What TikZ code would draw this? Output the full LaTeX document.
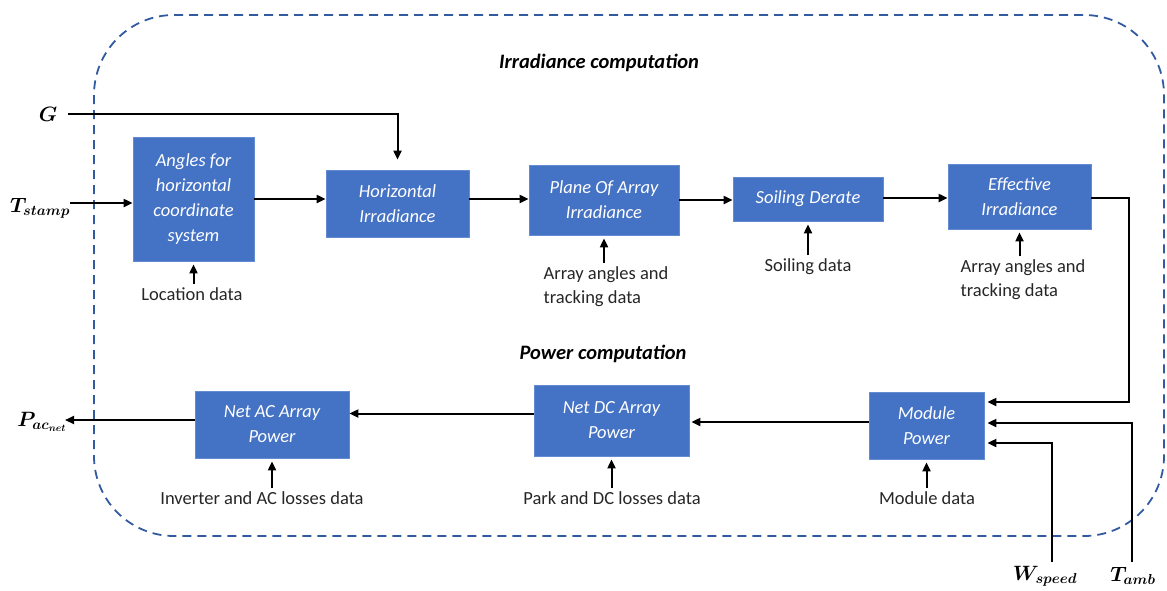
\documentclass[tikz,border=0pt]{standalone}
\usepackage{fontspec}
\usepackage{amsmath}
\usepackage{bm}
\setmainfont{Carlito}
\usetikzlibrary{arrows.meta,calc}
\definecolor{boxblue}{RGB}{68,114,196}
\definecolor{boxedge}{RGB}{100,140,210}
\definecolor{dashblue}{RGB}{50,90,160}
\definecolor{labgray}{RGB}{38,38,38}
\tikzset{
  blk/.style={draw=boxedge, line width=0.8pt, fill=boxblue, text=white, align=center,
    font=\fontsize{18.5}{25}\selectfont\itshape, inner sep=0pt},
  lbl/.style={anchor=north, align=left, text=labgray, inner sep=1pt,
    font=\fontsize{18.5}{24}\selectfont},
  ttl/.style={font=\fontsize{20.5}{24}\selectfont\bfseries\itshape, text=black},
  mth/.style={font=\fontsize{19.5}{22}\selectfont, inner sep=1pt},
  arr/.style={line width=2pt, -{Triangle[length=9pt,width=8pt]}},
  frame/.style={draw=dashblue, line width=1.8pt, dash pattern=on 9pt off 6pt, rounded corners=80pt}
}
\begin{document}
\begin{tikzpicture}[x=1pt,y=-1pt]
\useasboundingbox (0,0) rectangle (1167,590);
\draw[frame] (94,15) rectangle (1164,536);

\node[ttl] (t1) at (599,63) {Irradiance computation};
\node[ttl] (t2) at (603,354) {Power computation};

% blocks
\node[blk, minimum width=121pt, minimum height=124pt] (ang) at (193.5,199) {Angles for\\horizontal\\coordinate\\system};
\node[blk, minimum width=143pt, minimum height=67pt] (hor) at (397.5,203.5) {Horizontal\\Irradiance};
\node[blk, minimum width=150pt, minimum height=70pt] (poa) at (604,200) {Plane Of Array\\Irradiance};
\node[blk, minimum width=150pt, minimum height=44pt] (soil) at (808,199) {Soiling Derate};
\node[blk, minimum width=143pt, minimum height=65pt] (eff) at (1019.5,196.5) {Effective\\Irradiance};
\node[blk, minimum width=154pt, minimum height=67pt] (nac) at (272,424.5) {Net AC Array\\Power};
\node[blk, minimum width=155pt, minimum height=71pt] (ndc) at (611.5,420.5) {Net DC Array\\Power};
\node[blk, minimum width=115pt, minimum height=67pt] (mod) at (926.5,425.5) {Module\\Power};

% data labels
\node[lbl] (locl) at (192,286) {Location data};
\node[lbl] (poal) at (606,265) {Array angles and\\tracking data};
\node[lbl] (soill) at (808,257) {Soiling data};
\node[lbl] (effl) at (1023,258) {Array angles and\\tracking data};
\node[lbl] (nacl) at (262,490) {Inverter and AC losses data};
\node[lbl] (ndcl) at (612,490) {Park and DC losses data};
\node[lbl] (modl) at (927,490) {Module data};

\foreach \b/\l in {ang/locl, poa/poal, soil/soill, eff/effl, nac/nacl, ndc/ndcl, mod/modl}
  \draw[arr, shorten >=3pt, shorten <=2pt] (\b.south |- \l.north) -- (\b.south);

% external inputs/outputs
\node[mth] (G) at (48,114) {$\bm{G}$};
\node[mth] (ts) at (40,208) {$\bm{T_{stamp}}$};
\node[mth] (pac) at (42,422) {$\bm{P_{ac_{net}}}$};
\node[mth] (ws) at (1045,576) {$\bm{W_{speed}}$};
\node[mth] (ta) at (1133,576) {$\bm{T_{amb}}$};
\coordinate (gin) at (68,114);
\coordinate (tsin) at (70,203);
\coordinate (pout) at (65,420);
\coordinate (wsin) at (1052,562);
\coordinate (tain) at (1132,562);

\draw[arr, shorten >=10pt] (gin) -| (hor.north);
\draw[arr] (tsin) -- (tsin -| ang.west);
\draw[arr] (ang.east) -- (ang.east -| hor.west);
\draw[arr] ([yshift=4.5pt]hor.east) -- ([yshift=4.5pt]hor.east -| poa.west);
\draw[arr] (poa.east) -- (poa.east -| soil.west);
\draw[arr] ([yshift=1pt]soil.east) -- ([yshift=1pt]soil.east -| eff.west);
\draw[arr] ([yshift=-1.5pt]eff.east) -- ++(38,0) |- ($(mod.east)+(3,-23.5)$);
\draw[arr] (tain) |- ($(mod.east)+(3,-2.5)$);
\draw[arr] (wsin) |- ($(mod.east)+(3,17.5)$);
\draw[arr, shorten >=2pt] ([yshift=3.5pt]mod.west) -- ([yshift=3.5pt]mod.west -| ndc.east);
\draw[arr] ([yshift=7pt]ndc.west) -- ([yshift=7pt]ndc.west -| nac.east);
\draw[arr] ([yshift=4.5pt]nac.west) -- ([yshift=4.5pt]nac.west -| pout);
\end{tikzpicture}
\end{document}
